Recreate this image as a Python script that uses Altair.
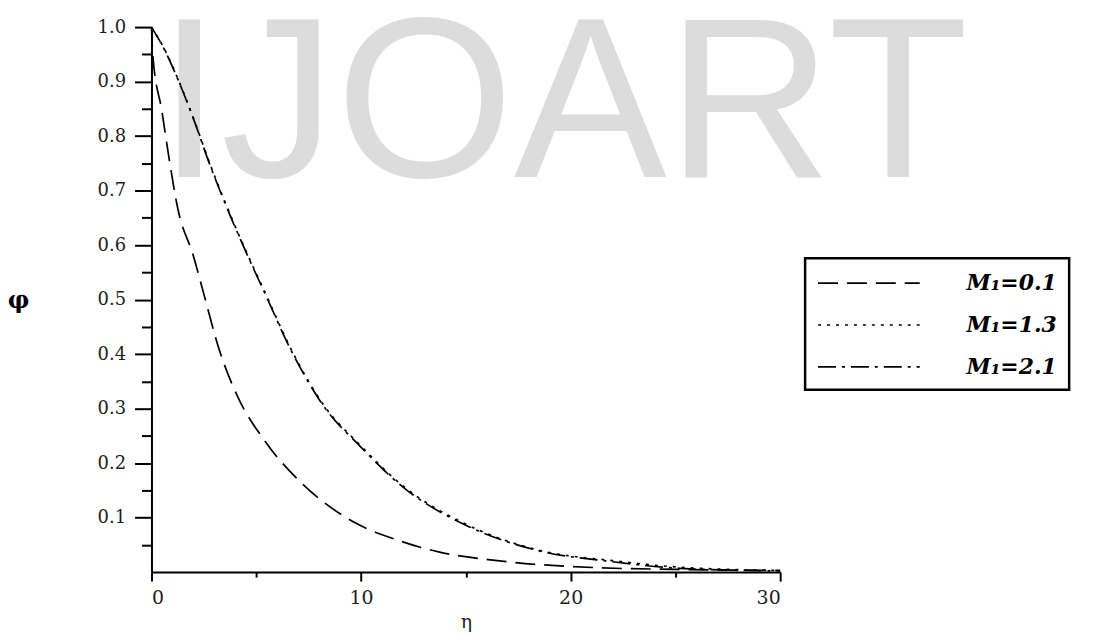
import altair as alt
import pandas as pd

# ---- data ----
series_names = ["M\u2081=0.1", "M\u2081=1.3", "M\u2081=2.1"]

eta_m01 = [0, 0.06, 0.5, 0.86, 1.25, 2.0, 2.5, 3.2, 4.1, 5.4, 7.2, 9.7, 11.8, 13.7, 16.5, 21.3, 25.0, 30.0]
phi_m01 = [1.0, 0.95, 0.845, 0.754, 0.668, 0.58, 0.51, 0.412, 0.323, 0.241, 0.162, 0.091, 0.058, 0.037, 0.021, 0.008, 0.005, 0.003]

eta_m13 = [0, 0.6, 1.25, 2.0, 2.8, 3.8, 4.9, 5.3, 6.7, 8.3, 9.9, 12.0, 15.0, 18.5, 22.0, 25.2, 30.0]
phi_m13 = [1.0, 0.961, 0.906, 0.833, 0.748, 0.652, 0.556, 0.523, 0.406, 0.302, 0.235, 0.158, 0.088, 0.04, 0.021, 0.009, 0.003]

eta_m21 = [0, 0.6, 1.25, 2.0, 2.8, 3.8, 4.9, 5.3, 6.7, 8.3, 9.9, 12.0, 15.0, 18.5, 22.0, 25.2, 30.0]
phi_m21 = [1.0, 0.96, 0.905, 0.832, 0.746, 0.65, 0.554, 0.521, 0.404, 0.3, 0.233, 0.156, 0.086, 0.039, 0.019, 0.007, 0.002]

dash_patterns = [[20, 9], [3, 6], [18, 6, 3, 6]]

x_major = [0, 10, 20, 30]
x_minor = [5, 15, 25]
y_major = [0.1, 0.2, 0.3, 0.4, 0.5, 0.6, 0.7, 0.8, 0.9, 1.0]
y_minor = [0.05, 0.15, 0.25, 0.35, 0.45, 0.55, 0.65, 0.75, 0.85, 0.95]

watermark = ["IJOART"]

rows = []
for name, xs, ys in zip(series_names, [eta_m01, eta_m13, eta_m21], [phi_m01, phi_m13, phi_m21]):
    for e, p in zip(xs, ys):
        rows.append({"eta": e, "phi": p, "series": name})
df = pd.DataFrame(rows)

W, H = 631, 547
FONT = "DejaVu Serif"
INK = "#1e1e1e"

x_scale = alt.Scale(domain=[0, 30], nice=False, zero=False)
y_scale = alt.Scale(domain=[0, 1], nice=False, zero=False)

wm = alt.Chart(pd.DataFrame({"t": watermark})).mark_text(
    font="Liberation Sans", fontSize=230, color="#dcdcdc", align="left", baseline="alphabetic"
).encode(x=alt.value(6), y=alt.value(150), text="t:N")

lines = alt.Chart(df).mark_line(color="black", strokeWidth=1.7, interpolate="monotone").encode(
    x=alt.X("eta:Q", scale=x_scale, axis=alt.Axis(
        orient="bottom", values=x_major, format="d", grid=False,
        domainColor="black", domainWidth=2, tickColor="black", tickWidth=2, tickSize=9,
        labelFont=FONT, labelFontSize=19, labelColor=INK, labelPadding=8,
        title="\u03b7", titleFont=FONT, titleFontSize=19, titleFontWeight="normal",
        titleColor=INK, titlePadding=5)),
    y=alt.Y("phi:Q", scale=y_scale, axis=alt.Axis(
        orient="left", values=y_major, format=".1f", grid=False,
        domainColor="black", domainWidth=2, tickColor="black", tickWidth=2, tickSize=17,
        labelFont=FONT, labelFontSize=18, labelColor=INK, labelPadding=9,
        title="\u03c6", titleFont=FONT, titleFontSize=24, titleFontWeight="bold",
        titleColor="black", titleAngle=0, titleX=-134, titleY=274,
        titleAlign="center", titleBaseline="middle")),
    strokeDash=alt.StrokeDash("series:N", scale=alt.Scale(domain=series_names, range=dash_patterns),
        legend=alt.Legend(
            title=None, orient="none", legendX=656, legendY=232,
            symbolType="M-1,0H7.5", symbolSize=576, symbolStrokeWidth=1.7,
            symbolStrokeColor="black", symbolFillColor="transparent",
            labelFont=FONT, labelFontSize=22, labelFontStyle="italic", labelFontWeight="bold",
            labelColor="black", labelOffset=124, padding=12, rowPadding=18,
            strokeColor="black", fillColor="white")),
)

minor = alt.Chart(df).mark_line(strokeOpacity=0).encode(
    x=alt.X("eta:Q", scale=x_scale, axis=alt.Axis(
        orient="bottom", values=x_minor, labels=False, domain=False, grid=False,
        tickColor="black", tickWidth=2, tickSize=5, title="")),
    y=alt.Y("phi:Q", scale=y_scale, axis=alt.Axis(
        orient="left", values=y_minor, labels=False, domain=False, grid=False,
        tickColor="black", tickWidth=2, tickSize=10, title="")),
)

chart = alt.layer(wm, lines, minor).resolve_axis(x="independent", y="independent").properties(
    width=W, height=H,
    padding={"left": 144, "top": 18, "right": 330, "bottom": 66},
    autosize=alt.AutoSizeParams(type="none"),
).configure_view(strokeWidth=0).configure_legend(strokeWidth=2.5)

chart.save("out.html", embed_options={"renderer": "svg", "actions": False})
